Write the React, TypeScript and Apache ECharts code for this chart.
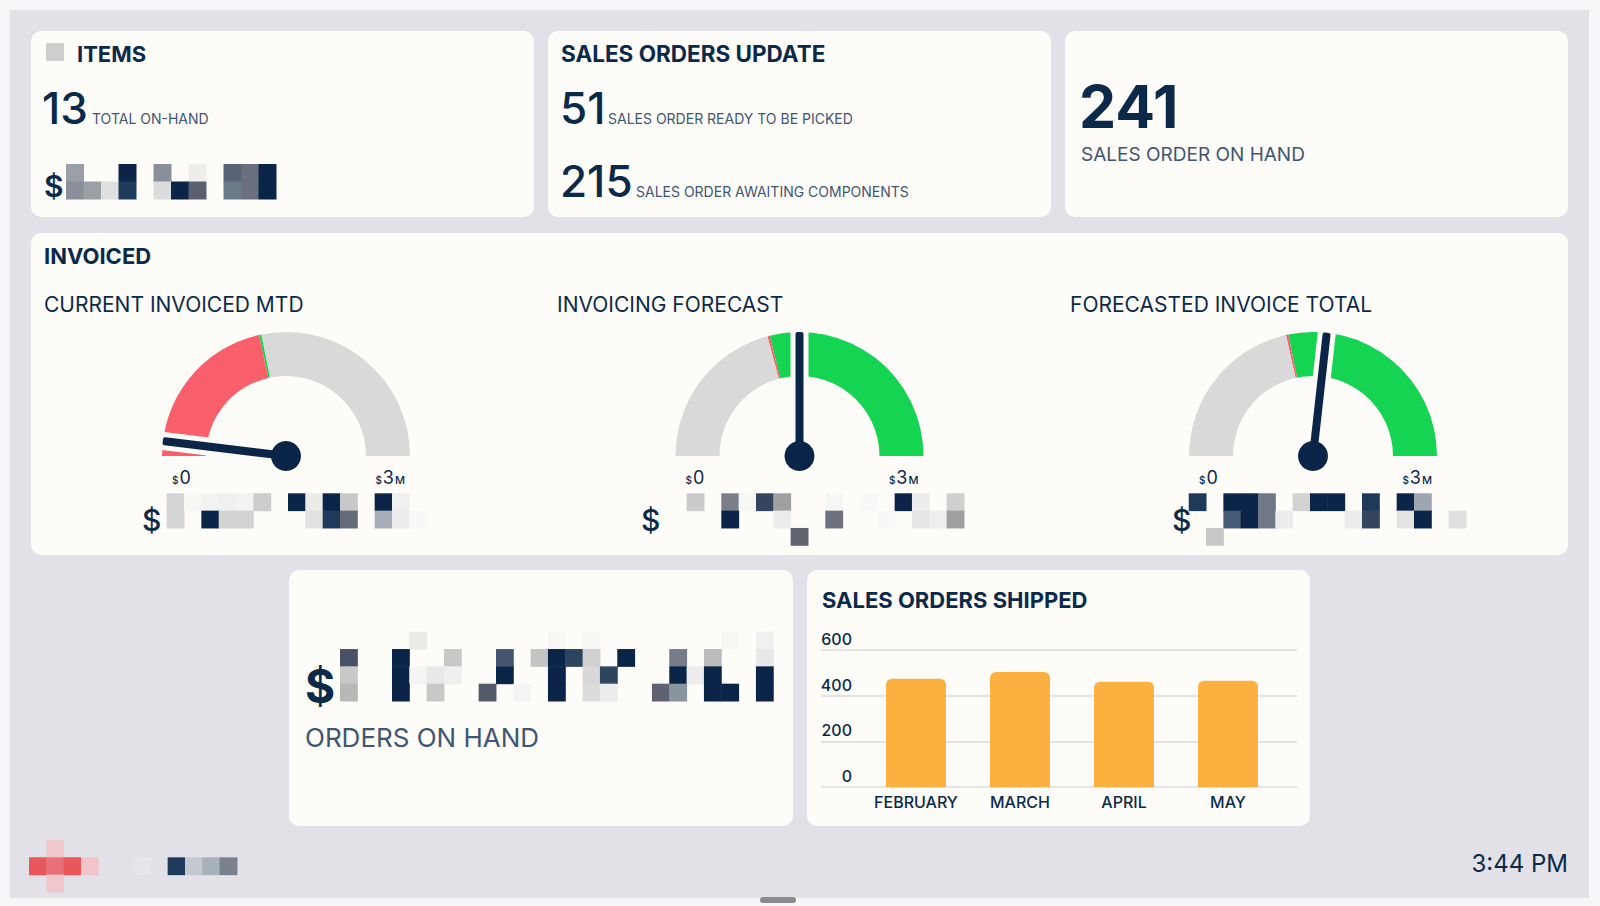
import React, { useEffect, useRef } from 'react';
import * as echarts from 'echarts';

// ---------------- data ----------------
const itemsTotalOnHand = 13;
const salesReadyToPick = 51;
const salesAwaitingComponents = 215;
const salesOrderOnHand = 241;
const clockText = '3:44 PM';

const gaugeTitles = ['CURRENT INVOICED MTD', 'INVOICING FORECAST', 'FORECASTED INVOICE TOTAL'];
const gaugeValues = [0.116, 1.5, 1.606]; // $M
const gaugeTargets = [1.29, 1.25, 1.29]; // $M
const gaugeMin = 0;
const gaugeMax = 3;

const months = ['FEBRUARY', 'MARCH', 'APRIL', 'MAY'];
const shippedOrders = [474, 504, 461, 465];
const shippedTicks = [0, 200, 400, 600];

// ---------------- styling ----------------
const FONT = 'Inter, "Noto Sans", sans-serif';
const NAVY = '#0b2a4a';
const DARK = '#0a2547';
const SLATE = '#3e5671';
const CARD = '#fefcf9';
const PANEL = '#e1e1e7';
const PAGE = '#f5f6f8';
const RED = '#f95f6b';
const GREEN = '#14d452';
const GRAY = '#d9d9da';
const ORANGE = '#fbb040';

const rect = (x: number, y: number, w: number, h: number, fill: string, r = 0) => ({
  type: 'rect',
  shape: { x, y, width: w, height: h, r },
  style: { fill },
  silent: true,
});

const text = (
  x: number,
  y: number,
  str: string,
  size: number,
  weight: number | string,
  color: string,
  align = 'left'
) => ({
  type: 'text',
  x,
  y,
  silent: true,
  style: {
    text: str,
    fontSize: size,
    fontWeight: weight,
    fontFamily: FONT,
    fill: color,
    align,
    verticalAlign: 'middle',
    textAlign: align,
    textVerticalAlign: 'middle',
  },
});

const blocks = (x0: number, y0: number, cell: number, rows: string[][]) => {
  const out: any[] = [];
  rows.forEach((row, ri) =>
    row.forEach((c, ci) => {
      if (c) out.push(rect(x0 + ci * cell, y0 + ri * cell, cell + 0.5, cell + 0.5, c));
    })
  );
  return out;
};

const N = DARK;
const redactCard1 = [
  ['#9aa0a6', '', '', N, '', '#8a9099', '', '#efedea', '', '#5a6478', '#6a7080', N],
  ['#8a9099', '#9aa0a6', '#e0e0e0', '#1e3a5a', '', '#dcdcdc', N, '#5a6070', '', '#6a7a88', '#6a7080', N],
];
const redactG1 = [
  ['#d4d4d4', '#f6f6f5', '#f2f2f1', '#f0f0ef', '#f3f3f2', '#cccdcf', '', N, '#ebebea', N, '#c8c8c8', '', N, '#f0f0f0', '', ''],
  ['#d4d4d4', '', N, '#d2d2d2', '#d2d2d2', '', '', '', '#e2e2e2', '#1e3a5a', '#646c7c', '', '#a8aeb6', '#ececec', '#f8f8f8', ''],
];
const redactG2 = [
  ['', '', '#cacbcd', '', '#7a7e88', '#f6f6f5', '#34465e', '#a0a0a2', '', '', '#f6f6f5', '', '#f8f8f7', '', N, '#ececec', '', '#cfcfcf'],
  ['', '', '', '', N, '', '', '#ececec', '', '', '#6e7280', '', '', '#f8f8f7', '', '#e6e6e6', '#eeeeee', '#a0a0a2'],
  ['', '', '', '', '', '', '', '', '#60646e', '', '', '', '', '', '', '', '', ''],
];
const redactG3 = [
  ['#1e3a5a', '', N, N, '#707888', '', '#d2d2d2', N, N, '', '#1e3a5a', '', N, '#a0a6b0', '', ''],
  ['', '', '#455a74', N, '#707888', '#ececec', '', '', '', '#ececec', '#34465e', '', '#e4e4e4', N, '', '#e0e0e0'],
  ['', '#c8c8c8', '', '', '', '', '', '', '', '', '', '', '', '', '', ''],
];
const redactOrders = [
  ['', '', '', '', '#ebebea', '', '', '', '', '', '', '', '#f8f7f5', '', '#f6f6f4', '', '', '', '', '', '', '', '#f8f7f5', '', '#f0f0f0'],
  ['#4a5066', '', '', N, '', '', '#c8c8c8', '', '', '#455570', '', '#c4c4c4', N, '#2e4560', '#d0d0d0', '', N, '', '', '#777a88', '', '#bbbbbb', '', '', '#e8e8e8'],
  ['#c8c8c8', '', '', N, '#f4f4f4', '#e8e8e8', '#efefef', '', '', N, '', '', N, '', '#d8d8d8', '#2e4560', '', '', '', N, '#ececec', N, '', '', N],
  ['#b8b8b8', '', '', N, '', '#c8c8c8', '', '', '#555a6a', '', '#f4f4f4', '', N, '', '#dcdcdc', '#ececec', '', '', '#5e6272', '#8a949e', '', N, N, '', N],
];
const redactFooter = [
  ['', '#f0c8cc', '', '', '', '', '', '', '', '', '', ''],
  ['#e8575b', '#e87078', '#e8575b', '#f0c4c8', '', '', '#e6e6ea', '', '#1e3a5a', '#c4c8d0', '#a8b0ba', '#7a808c'],
  ['', '#f0c8cc', '', '', '', '', '', '', '', '', '', ''],
];

export default function App() {
  const ref = useRef<HTMLDivElement>(null);

  useEffect(() => {
    document.body.style.margin = '0';
    if (!ref.current) return;
    const chart = echarts.init(ref.current, undefined, { renderer: 'svg' });

    const gaugeCenters = [286, 799.5, 1313];
    const gaugeCY = 456;
    const R = 124;

    const elements: any[] = [];
    // panel & cards
    elements.push(rect(10, 10, 1579, 888, PANEL));
    elements.push(rect(31, 31, 503, 186, CARD, 10));
    elements.push(rect(548, 31, 503, 186, CARD, 10));
    elements.push(rect(1065, 31, 503, 186, CARD, 10));
    elements.push(rect(31, 233, 1537, 322, CARD, 10));
    elements.push(rect(289, 570, 504, 256, CARD, 10));
    elements.push(rect(807, 570, 503, 256, CARD, 10));
    elements.push(rect(760, 897, 36, 6, '#8c8c8e', 3));

    // card 1
    elements.push(rect(46, 43, 18, 18, '#cfcfcf', 1));
    elements.push(text(77, 53.5, 'ITEMS', 22, 700, NAVY));
    elements.push(text(42, 108, String(itemsTotalOnHand), 44, 500, NAVY));
    elements.push(text(92, 118.5, 'TOTAL ON-HAND', 14, 400, SLATE));
    elements.push(text(44, 186, '$', 30, 600, NAVY));
    elements.push(...blocks(66, 164, 17.5, redactCard1));

    // card 2
    elements.push(text(561, 53.5, 'SALES ORDERS UPDATE', 22.5, 700, NAVY));
    elements.push(text(560, 108, String(salesReadyToPick), 44, 500, NAVY));
    elements.push(text(608, 118.5, 'SALES ORDER READY TO BE PICKED', 14, 400, SLATE));
    elements.push(text(560, 181, String(salesAwaitingComponents), 44, 500, NAVY));
    elements.push(text(636, 191.5, 'SALES ORDER AWAITING COMPONENTS', 14, 400, SLATE));

    // card 3
    elements.push(text(1079, 106.5, String(salesOrderOnHand), 59, 700, NAVY));
    elements.push(text(1081, 154, 'SALES ORDER ON HAND', 19, 400, SLATE));

    // invoiced
    elements.push(text(44, 256, 'INVOICED', 22, 700, NAVY));
    const titleX = [44, 557, 1070];
    gaugeTitles.forEach((t, i) => elements.push(text(titleX[i], 304, t, 21, 400, NAVY)));
    gaugeCenters.forEach((cx) => {
      elements.push({
        type: 'text',
        x: cx - R + 10,
        y: 477,
        silent: true,
        style: {
          text: '{s|$}{n|' + gaugeMin + '}',
          align: 'left',
          verticalAlign: 'middle',
          textAlign: 'left',
          textVerticalAlign: 'middle',
          rich: {
            s: { fontSize: 10, fontWeight: 500, fontFamily: FONT, fill: NAVY, padding: [5, 1, 0, 0] },
            n: { fontSize: 18, fontWeight: 400, fontFamily: FONT, fill: NAVY },
          },
        },
      });
      elements.push({
        type: 'text',
        x: cx + R - 5,
        y: 477,
        silent: true,
        style: {
          text: '{s|$}{n|' + gaugeMax + '}{m|M}',
          align: 'right',
          verticalAlign: 'middle',
          textAlign: 'right',
          textVerticalAlign: 'middle',
          rich: {
            s: { fontSize: 10, fontWeight: 500, fontFamily: FONT, fill: NAVY, padding: [5, 1, 0, 0] },
            n: { fontSize: 18, fontWeight: 400, fontFamily: FONT, fill: NAVY },
            m: { fontSize: 11, fontWeight: 500, fontFamily: FONT, fill: NAVY, padding: [5, 0, 0, 1] },
          },
        },
      });
    });
    const dollarX = [142, 641, 1172];
    dollarX.forEach((x) => elements.push(text(x, 520, '$', 30, 500, NAVY)));
    elements.push(...blocks(166.7, 493.3, 17.33, redactG1));
    elements.push(...blocks(652, 493.3, 17.33, redactG2));
    elements.push(...blocks(1188.7, 493.3, 17.33, redactG3));

    // orders on hand
    elements.push(text(305, 686, '$', 46, 700, NAVY));
    elements.push(...blocks(340, 631.7, 17.33, redactOrders));
    elements.push(text(305, 737, 'ORDERS ON HAND', 26, 400, SLATE));

    // shipped
    elements.push(text(822, 599.5, 'SALES ORDERS SHIPPED', 22, 700, NAVY));

    // footer
    elements.push(...blocks(29, 840, 17.33, redactFooter));
    elements.push(text(1568, 863, clockText, 24, 400, NAVY, 'right'));

    const series: any[] = [];
    gaugeCenters.forEach((cx, i) => {
      const v = gaugeValues[i];
      const t = (gaugeTargets[i] - gaugeMin) / (gaugeMax - gaugeMin);
      const colors =
        v < gaugeTargets[i]
          ? [[t, RED], [t + 0.006, GREEN], [1, GRAY]]
          : [[t, GRAY], [t + 0.006, RED], [1, GREEN]];
      const base = {
        type: 'gauge',
        center: [cx, gaugeCY],
        radius: R,
        startAngle: 180,
        endAngle: 0,
        min: gaugeMin,
        max: gaugeMax,
        splitLine: { show: false },
        axisTick: { show: false },
        axisLabel: { show: false },
        title: { show: false },
        detail: { show: false },
        data: [{ value: v }],
        silent: true,
      };
      series.push({
        ...base,
        z: 4,
        axisLine: { lineStyle: { width: 44, color: colors } },
        pointer: { icon: 'rect', length: '100%', width: 18, offsetCenter: [0, 0], itemStyle: { color: CARD } },
        anchor: { show: false },
      });
      series.push({
        ...base,
        z: 5,
        axisLine: { show: false },
        pointer: { icon: 'roundRect', length: '100%', width: 8, offsetCenter: [0, 0], itemStyle: { color: DARK } },
        anchor: { show: true, showAbove: true, size: 30, itemStyle: { color: DARK, borderWidth: 0 } },
      });
    });

    series.push({
      type: 'bar',
      xAxisIndex: 0,
      yAxisIndex: 0,
      z: 5,
      data: shippedOrders,
      barWidth: 60,
      itemStyle: { color: ORANGE, borderRadius: [6, 6, 0, 0] },
      silent: true,
    });

    const yMin = shippedTicks[0];
    const yMax = shippedTicks[shippedTicks.length - 1];
    const yInt = shippedTicks[1] - shippedTicks[0];

    chart.setOption({
      animation: false,
      backgroundColor: PAGE,
      graphic: { elements },
      grid: [
        { left: 864, top: 650, width: 416, height: 137 },
        { left: 821, top: 650, width: 476, height: 137 },
      ],
      xAxis: [
        {
          gridIndex: 0,
          type: 'category',
          data: months,
          z: 3,
          axisLine: { show: false },
          axisTick: { show: false },
          axisLabel: { interval: 0, margin: 7, fontSize: 16, fontWeight: 500, color: NAVY, fontFamily: FONT },
        },
        { gridIndex: 1, type: 'value', show: false, min: 0, max: 1 },
      ],
      yAxis: [
        { gridIndex: 0, type: 'value', min: yMin, max: yMax, interval: yInt, show: false },
        {
          gridIndex: 1,
          type: 'value',
          min: yMin,
          max: yMax,
          interval: yInt,
          z: 3,
          axisLine: { show: false },
          axisTick: { show: false },
          splitLine: { show: true, lineStyle: { color: '#e4e4e4', width: 2 } },
          axisLabel: {
            inside: true,
            margin: 31,
            align: 'right',
            verticalAlign: 'bottom',
            lineHeight: 22,
            fontSize: 16,
            fontWeight: 500,
            color: NAVY,
            fontFamily: FONT,
          },
        },
      ],
      series,
    });

    return () => chart.dispose();
  }, []);

  return <div ref={ref} style={{ width: 1600, height: 906 }} />;
}
